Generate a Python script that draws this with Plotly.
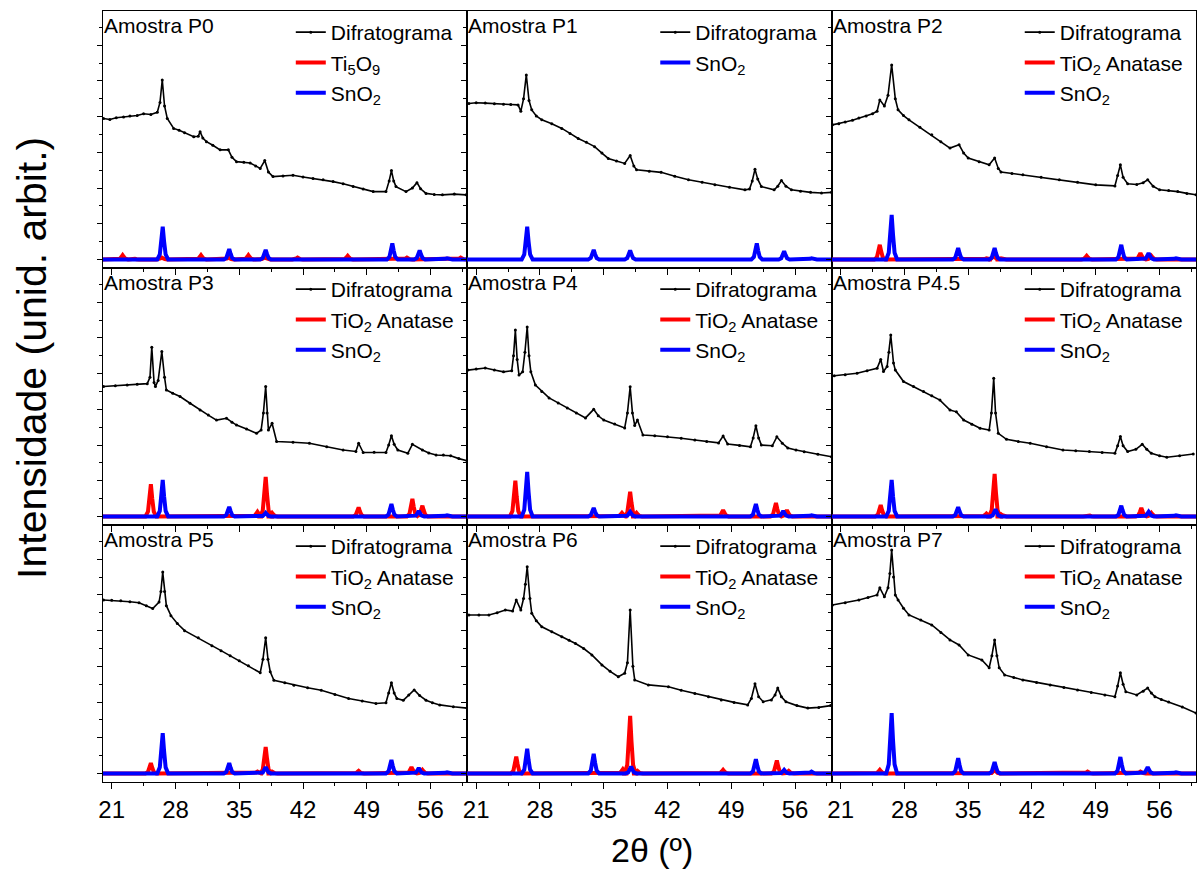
import plotly.graph_objects as go
from plotly.subplots import make_subplots

FONT = "Liberation Sans, Arial, sans-serif"

# diffractograms (2theta, intensity)
DIF_P0 = [(20.1, 3.95), (20.8, 3.92), (21.5, 3.97), (22.3, 3.99), (23.0, 4.02), (23.8, 4.03), (24.5, 4.08),
          (25.3, 4.06), (26.0, 4.12), (26.3, 4.4), (26.55, 5.03), (26.8, 4.3), (27.1, 3.95), (27.8, 3.67),
          (28.4, 3.62), (29.0, 3.55), (30.0, 3.44), (30.5, 3.45), (30.7, 3.58), (31.0, 3.40), (31.4, 3.30),
          (32.1, 3.20), (32.9, 3.07), (33.8, 3.07), (34.2, 2.86), (34.7, 2.74), (35.5, 2.72), (36.2, 2.70),
          (36.8, 2.62), (37.3, 2.55), (37.8, 2.77), (38.2, 2.45), (38.7, 2.32), (39.8, 2.34), (40.9, 2.36),
          (42.0, 2.31), (43.1, 2.27), (44.2, 2.23), (45.3, 2.18), (46.4, 2.12), (47.5, 2.04), (48.6, 1.97),
          (49.7, 1.90), (51.1, 1.90), (51.45, 2.2), (51.7, 2.49), (51.95, 2.2), (52.2, 2.04), (53.3, 1.90),
          (54.0, 2.0), (54.5, 2.15), (54.9, 1.98), (55.5, 1.85), (56.4, 1.82), (57.3, 1.81), (58.6, 1.83),
          (59.9, 1.81)]
DIF_P1 = [(20.2, 4.37), (21.0, 4.39), (22.0, 4.38), (23.0, 4.36), (24.0, 4.35), (24.8, 4.34), (25.6, 4.33),
          (25.9, 4.15), (26.2, 4.5), (26.5, 5.17), (26.8, 4.45), (27.1, 4.19), (27.6, 4.02), (28.2, 3.91),
          (29.3, 3.80), (30.4, 3.67), (31.3, 3.53), (32.2, 3.39), (33.1, 3.28), (34.0, 3.16), (34.8, 2.98),
          (35.5, 2.83), (36.4, 2.76), (37.3, 2.69), (37.9, 2.91), (38.3, 2.62), (38.6, 2.51), (40.0, 2.47),
          (41.3, 2.44), (42.8, 2.33), (44.3, 2.23), (45.8, 2.16), (47.2, 2.09), (48.8, 2.02), (50.5, 1.95),
          (51.0, 1.97), (51.3, 2.2), (51.6, 2.53), (51.9, 2.25), (52.3, 2.04), (53.7, 1.95), (54.1, 2.05),
          (54.5, 2.21), (55.0, 2.05), (55.6, 1.95), (56.6, 1.91), (57.7, 1.88), (58.9, 1.86), (60.0, 1.88)]
DIF_P2 = [(20.1, 3.77), (20.8, 3.80), (21.5, 3.85), (22.3, 3.90), (23.0, 3.96), (23.8, 4.02), (24.5, 4.08),
          (25.0, 4.15), (25.3, 4.47), (25.8, 4.3), (26.2, 4.6), (26.6, 5.45), (27.0, 4.5), (27.3, 4.19),
          (27.9, 4.03), (28.5, 3.91), (29.7, 3.70), (31.0, 3.49), (32.0, 3.30), (33.0, 3.12), (34.0, 3.21),
          (34.5, 2.98), (35.0, 2.84), (36.2, 2.74), (37.3, 2.65), (37.9, 2.84), (38.3, 2.55), (38.6, 2.45),
          (39.8, 2.41), (41.0, 2.37), (43.0, 2.30), (45.0, 2.23), (47.0, 2.16), (49.0, 2.09), (51.1, 2.06),
          (51.4, 2.35), (51.7, 2.65), (52.0, 2.3), (52.5, 2.12), (53.5, 2.10), (54.2, 2.15), (54.7, 2.23),
          (55.3, 2.05), (56.0, 1.95), (57.0, 1.93), (58.0, 1.90), (59.0, 1.85), (60.0, 1.81)]
DIF_P3 = [(20.1, 3.64), (21.4, 3.66), (22.7, 3.68), (23.8, 3.70), (24.9, 3.72), (25.2, 3.9), (25.4, 4.74),
          (25.65, 3.75), (25.8, 3.64), (26.1, 3.81), (26.5, 4.62), (26.8, 3.9), (27.0, 3.54), (27.7, 3.45),
          (28.5, 3.36), (29.6, 3.17), (30.7, 2.98), (31.6, 2.84), (32.5, 2.70), (33.6, 2.75), (34.2, 2.64),
          (34.7, 2.56), (35.8, 2.45), (36.9, 2.33), (37.4, 2.42), (37.65, 2.9), (37.9, 3.64), (38.05, 2.9),
          (38.2, 2.42), (38.6, 2.61), (39.1, 2.10), (40.9, 2.08), (42.7, 2.05), (44.6, 1.95), (46.4, 1.86),
          (47.8, 1.82), (48.1, 2.05), (48.6, 1.79), (49.8, 1.80), (51.1, 1.79), (51.4, 2.0), (51.7, 2.26),
          (52.0, 2.02), (52.4, 1.86), (53.5, 1.77), (54.0, 2.02), (55.1, 1.86), (55.8, 1.78), (56.6, 1.72),
          (57.4, 1.72), (58.2, 1.70), (59.1, 1.62), (60.0, 1.56)]
DIF_P4 = [(20.1, 4.10), (21.0, 4.13), (22.0, 4.16), (23.0, 4.10), (24.0, 4.05), (24.9, 4.08), (25.1, 4.5),
          (25.3, 5.22), (25.5, 4.4), (25.7, 3.96), (26.1, 4.05), (26.35, 4.6), (26.6, 5.31), (26.8, 4.5),
          (27.0, 4.05), (27.5, 3.68), (28.2, 3.50), (29.0, 3.32), (30.0, 3.18), (31.0, 3.04), (32.0, 2.90),
          (33.0, 2.76), (33.9, 3.0), (34.4, 2.82), (35.0, 2.70), (36.2, 2.59), (37.3, 2.48), (37.6, 2.9),
          (37.9, 3.63), (38.15, 2.9), (38.4, 2.55), (38.7, 2.70), (39.3, 2.28), (40.6, 2.26), (42.0, 2.23),
          (43.5, 2.19), (45.0, 2.14), (46.3, 2.10), (47.6, 2.06), (48.1, 2.25), (48.6, 2.03), (49.9, 1.99),
          (51.1, 1.95), (51.4, 2.2), (51.7, 2.54), (52.0, 2.2), (52.3, 2.0), (53.5, 1.98), (54.0, 2.23),
          (54.6, 2.05), (55.2, 1.92), (56.1, 1.86), (57.0, 1.81), (58.5, 1.74), (60.0, 1.67)]
DIF_P45 = [(20.3, 3.94), (21.5, 3.97), (22.8, 4.01), (23.9, 4.08), (25.0, 4.15), (25.4, 4.40), (25.7, 4.06),
           (26.1, 4.2), (26.3, 4.6), (26.5, 5.08), (26.8, 4.3), (27.0, 4.1), (27.9, 3.78), (29.0, 3.64),
           (30.1, 3.50), (31.0, 3.38), (31.9, 3.26), (33.0, 2.98), (33.7, 2.93), (34.5, 2.70), (35.4, 2.58),
           (36.3, 2.47), (37.3, 2.42), (37.55, 2.9), (37.8, 3.87), (38.0, 2.9), (38.3, 2.33), (39.2, 2.16),
           (40.5, 2.10), (41.8, 2.05), (43.6, 1.95), (45.4, 1.86), (46.8, 1.84), (48.3, 1.82), (49.7, 1.79),
           (51.1, 1.77), (51.4, 1.98), (51.7, 2.24), (52.0, 1.98), (52.5, 1.82), (53.4, 1.88), (54.1, 2.02),
           (54.6, 1.88), (55.1, 1.77), (56.0, 1.70), (56.8, 1.66), (58.2, 1.70), (59.7, 1.75)]
DIF_P5 = [(20.1, 4.86), (21.0, 4.85), (22.0, 4.84), (23.0, 4.81), (24.0, 4.78), (24.8, 4.70), (25.5, 4.62),
          (26.2, 4.8), (26.4, 5.1), (26.6, 5.64), (26.8, 5.1), (27.0, 4.7), (27.5, 4.42), (28.2, 4.20),
          (29.0, 4.0), (30.5, 3.80), (32.0, 3.58), (33.0, 3.44), (34.0, 3.30), (35.0, 3.16), (36.0, 3.02),
          (37.3, 2.82), (37.6, 3.2), (37.9, 3.80), (38.15, 3.2), (38.4, 2.85), (38.8, 2.61), (40.0, 2.54),
          (41.0, 2.47), (42.5, 2.40), (44.0, 2.33), (45.5, 2.21), (47.0, 2.10), (48.5, 2.03), (50.0, 1.96),
          (51.1, 1.98), (51.4, 2.25), (51.7, 2.54), (52.0, 2.25), (52.3, 2.1), (53.0, 2.05), (53.6, 2.2),
          (54.2, 2.34), (54.8, 2.18), (55.5, 2.05), (56.2, 1.98), (57.0, 1.92), (58.5, 1.87), (60.0, 1.83)]
DIF_P6 = [(20.2, 4.44), (21.3, 4.44), (22.4, 4.44), (23.3, 4.50), (24.2, 4.58), (25.0, 4.55), (25.4, 4.86),
          (25.9, 4.58), (26.2, 4.9), (26.4, 5.3), (26.6, 5.79), (26.9, 4.9), (27.1, 4.49), (27.6, 4.28),
          (28.2, 4.11), (29.3, 3.97), (30.4, 3.83), (31.2, 3.73), (31.9, 3.64), (32.8, 3.50), (33.7, 3.32),
          (34.8, 3.04), (35.7, 2.86), (36.6, 2.71), (37.3, 2.81), (37.6, 3.1), (37.9, 4.58), (38.2, 3.0),
          (38.4, 2.62), (39.9, 2.48), (42.1, 2.43), (43.5, 2.33), (45.0, 2.24), (46.5, 2.15), (47.9, 2.06),
          (49.3, 1.99), (50.8, 1.92), (51.2, 2.1), (51.6, 2.51), (52.0, 2.15), (52.5, 2.01), (53.4, 2.06),
          (53.8, 2.2), (54.1, 2.39), (54.5, 2.15), (55.0, 2.01), (56.2, 1.90), (57.4, 1.83), (58.6, 1.85),
          (59.9, 1.90)]
DIF_P7 = [(20.1, 4.72), (21.5, 4.78), (23.0, 4.86), (24.0, 4.93), (25.0, 5.0), (25.3, 5.2), (25.8, 4.95),
          (26.2, 5.2), (26.4, 5.6), (26.6, 6.26), (26.8, 5.5), (27.0, 5.0), (27.3, 4.86), (27.9, 4.63),
          (28.5, 4.44), (29.8, 4.30), (31.0, 4.16), (32.0, 3.95), (33.0, 3.74), (34.0, 3.6), (35.0, 3.32),
          (36.5, 3.18), (37.3, 2.96), (37.6, 3.3), (37.9, 3.74), (38.15, 3.3), (38.4, 2.96), (39.0, 2.76),
          (40.0, 2.69), (41.0, 2.62), (42.5, 2.55), (44.0, 2.48), (45.5, 2.41), (47.0, 2.34), (48.5, 2.27),
          (50.0, 2.20), (51.1, 2.15), (51.4, 2.45), (51.7, 2.82), (52.0, 2.5), (52.3, 2.29), (53.5, 2.20),
          (54.2, 2.30), (54.7, 2.39), (55.1, 2.25), (55.5, 2.15), (56.2, 2.07), (57.0, 2.0), (58.5, 1.86),
          (60.0, 1.69)]

# reference peaks (2theta, height)
TI5O9_P0 = [(22.2, 0.12), (23.4, 0.03), (26.5, 0.05), (30.8, 0.12), (33.8, 0.05), (36.0, 0.12), (37.8, 0.06),
            (41.4, 0.05), (46.9, 0.1), (53.4, 0.05), (59.3, 0.05)]
SNO2_P0 = [(26.6, 0.92), (33.9, 0.29), (37.9, 0.27), (51.8, 0.45), (54.8, 0.25), (57.8, 0.03)]
SNO2_P1 = [(26.6, 0.92), (33.9, 0.27), (37.9, 0.25), (42.6, 0.02), (51.8, 0.45), (54.8, 0.23), (57.8, 0.03)]
TIO2_P2 = [(25.3, 0.41), (37.0, 0.03), (37.8, 0.1), (38.6, 0.03), (48.0, 0.1), (53.9, 0.18), (55.1, 0.1)]
SNO2_P2 = [(26.6, 1.25), (33.9, 0.32), (37.9, 0.32), (51.8, 0.41), (54.8, 0.18), (57.8, 0.03)]
TIO2_P3 = [(25.3, 0.90), (37.0, 0.13), (37.9, 1.11), (38.6, 0.10), (48.1, 0.25), (54.0, 0.49), (55.1, 0.30)]
SNO2_P3 = [(26.6, 1.02), (33.9, 0.27), (37.9, 0.10), (51.7, 0.35), (54.7, 0.15), (57.8, 0.03)]
TIO2_P4 = [(25.3, 1.0), (37.0, 0.1), (37.9, 0.69), (38.6, 0.1), (48.1, 0.18), (53.9, 0.38), (55.1, 0.18)]
SNO2_P4 = [(26.6, 1.25), (33.9, 0.24), (37.9, 0.13), (51.7, 0.35), (54.7, 0.15), (57.8, 0.03)]
TIO2_P45 = [(25.4, 0.32), (37.0, 0.08), (37.9, 1.19), (38.6, 0.06), (48.2, 0.04), (54.0, 0.24), (55.1, 0.1)]
SNO2_P45 = [(26.6, 1.02), (33.9, 0.26), (38.0, 0.2), (51.8, 0.3), (54.8, 0.13), (57.8, 0.03)]
TIO2_P5 = [(25.3, 0.29), (37.0, 0.05), (37.9, 0.74), (38.6, 0.05), (48.1, 0.07), (53.9, 0.18), (55.1, 0.1)]
SNO2_P5 = [(26.6, 1.13), (33.9, 0.29), (37.9, 0.18), (51.7, 0.38), (54.7, 0.15), (57.8, 0.03)]
TIO2_P6 = [(25.4, 0.47), (37.1, 0.12), (37.9, 1.61), (38.7, 0.07), (48.1, 0.1), (54.0, 0.36), (55.3, 0.07)]
SNO2_P6 = [(26.6, 0.69), (33.9, 0.55), (38.0, 0.19), (51.7, 0.40), (54.8, 0.10), (57.8, 0.05)]
TIO2_P7 = [(25.3, 0.1), (37.9, 0.1), (48.1, 0.05), (53.9, 0.05)]
SNO2_P7 = [(26.6, 1.69), (33.9, 0.43), (37.9, 0.32), (51.7, 0.46), (54.7, 0.18), (57.8, 0.03)]

ANATASE = "TiO<sub>2</sub> Anatase"
PANELS = [
    ("Amostra P0", DIF_P0, "Ti<sub>5</sub>O<sub>9</sub>", TI5O9_P0, SNO2_P0),
    ("Amostra P1", DIF_P1, None, None, SNO2_P1),
    ("Amostra P2", DIF_P2, ANATASE, TIO2_P2, SNO2_P2),
    ("Amostra P3", DIF_P3, ANATASE, TIO2_P3, SNO2_P3),
    ("Amostra P4", DIF_P4, ANATASE, TIO2_P4, SNO2_P4),
    ("Amostra P4.5", DIF_P45, ANATASE, TIO2_P45, SNO2_P45),
    ("Amostra P5", DIF_P5, ANATASE, TIO2_P5, SNO2_P5),
    ("Amostra P6", DIF_P6, ANATASE, TIO2_P6, SNO2_P6),
    ("Amostra P7", DIF_P7, ANATASE, TIO2_P7, SNO2_P7),
]

# line shape used to draw each reference peak (offset in 2theta, fraction of height)
PEAK_SHAPE = [(-0.6, 0), (-0.32, 0.15), (-0.15, 0.55), (0, 1), (0.15, 0.55), (0.32, 0.15), (0.6, 0)]

W, H = 1197, 871
COL_LEFT = [99, 465, 831]
COL_W = 366
ROW_TOP = [11, 268, 525]
ROW_H = 257


def ref_line(peaks):
    xs, ys = [20.0], [0.0]
    for th, h in peaks:
        for dx, f in PEAK_SHAPE:
            xs.append(th + dx)
            ys.append(h * f)
    xs.append(60.0)
    ys.append(0.0)
    return xs, ys


fig = make_subplots(rows=3, cols=3, horizontal_spacing=0, vertical_spacing=0)
layout_legends = {}
annotations = []

for i, (title, dif, red_name, red_peaks, blue_peaks) in enumerate(PANELS):
    r, c = i // 3, i % 3
    leg = "legend" if i == 0 else "legend%d" % (i + 1)
    fig.add_trace(go.Scatter(x=[p[0] for p in dif], y=[p[1] for p in dif], mode="lines+markers",
                             line=dict(color="black", width=1.6), marker=dict(size=3, color="black"),
                             name="Difratograma", legend=leg), row=r + 1, col=c + 1)
    if red_peaks:
        xs, ys = ref_line(red_peaks)
        fig.add_trace(go.Scatter(x=xs, y=ys, mode="lines", line=dict(color="#ff0000", width=4),
                                 name=red_name, legend=leg), row=r + 1, col=c + 1)
    xs, ys = ref_line(blue_peaks)
    fig.add_trace(go.Scatter(x=xs, y=ys, mode="lines", line=dict(color="#0000ff", width=4),
                             name="SnO<sub>2</sub>", legend=leg), row=r + 1, col=c + 1)

    x0 = COL_LEFT[c] / W
    x1 = min((COL_LEFT[c] + COL_W) / W, 1.0)
    y1 = 1 - ROW_TOP[r] / H
    y0 = 1 - (ROW_TOP[r] + ROW_H) / H
    fig.update_xaxes(domain=[x0, x1], range=[20, 60], tickmode="linear", tick0=21, dtick=7,
                     ticks="outside", ticklen=6, tickcolor="black",
                     minor=dict(tick0=21, dtick=3.5, ticks="outside", ticklen=3, tickcolor="black"),
                     showline=True, mirror=True, linecolor="black", linewidth=1, showgrid=False,
                     zeroline=False, showticklabels=(r == 2),
                     tickfont=dict(size=24, color="black", family=FONT), row=r + 1, col=c + 1)
    fig.update_yaxes(domain=[y0, y1], range=[-0.24, 6.96], tickmode="linear", tick0=0, dtick=1,
                     ticks="outside", ticklen=5, tickcolor="black",
                     minor=dict(tick0=0, dtick=0.5, ticks="outside", ticklen=3, tickcolor="black"),
                     showline=True, mirror=True, linecolor="black", linewidth=1, showgrid=False,
                     zeroline=False, showticklabels=False, row=r + 1, col=c + 1)

    layout_legends[leg] = dict(x=(COL_LEFT[c] + 189) / W, y=1 - (ROW_TOP[r] + 1) / H,
                               xanchor="left", yanchor="top", bgcolor="rgba(0,0,0,0)",
                               font=dict(size=21, color="black", family=FONT), tracegroupgap=0)
    annotations.append(dict(text=title, x=(COL_LEFT[c] - 1) / W, y=1 - (ROW_TOP[r] + 1) / H,
                            xref="paper", yref="paper", xanchor="left", yanchor="top", showarrow=False,
                            font=dict(size=21, color="black", family=FONT)))

annotations.append(dict(text="Intensidade (unid. arbit.)", x=28 / W, y=1 - 358 / H, xref="paper",
                        yref="paper", xanchor="center", yanchor="middle", textangle=-90, showarrow=False,
                        font=dict(size=41, color="black", family=FONT)))
annotations.append(dict(text="2θ (º)", x=651 / W, y=1 - 850 / H, xref="paper", yref="paper",
                        xanchor="center", yanchor="middle", showarrow=False,
                        font=dict(size=34, color="black", family=FONT)))

fig.update_layout(width=W, height=H, margin=dict(l=0, r=0, t=0, b=0), plot_bgcolor="white",
                  paper_bgcolor="white", showlegend=True, annotations=annotations,
                  font=dict(family=FONT, color="black"), **layout_legends)

fig.write_html("out.html", config={"displayModeBar": False},
               post_script="document.body.style.margin='0';document.body.style.overflow='hidden';")
